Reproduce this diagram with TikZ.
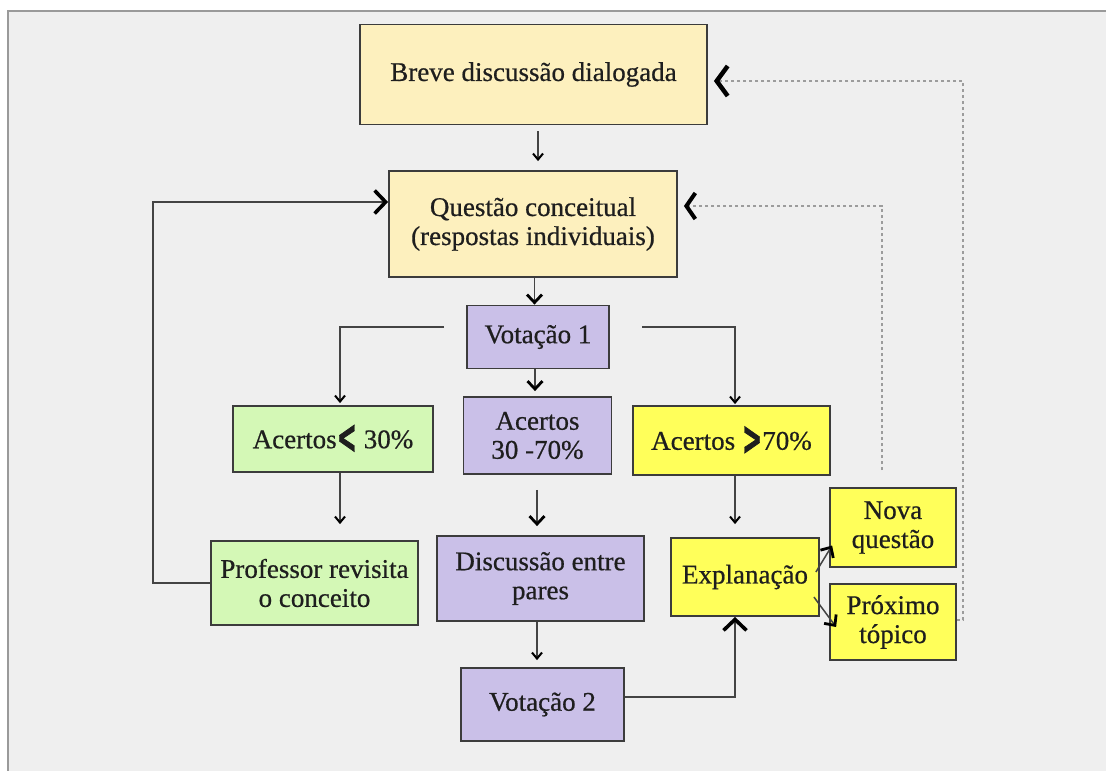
\documentclass[tikz,border=0pt]{standalone}
\usepackage{fontspec}
\usepackage{graphicx}
\setmainfont{Liberation Serif}
\newfontfamily\boxfont{Liberation Serif}[FakeBold=0.6]
\newfontfamily\chevfont{DejaVu Sans}[FakeBold=1.8]
\usetikzlibrary{arrows.meta}
\definecolor{bggray}{HTML}{EFEFEF}
\definecolor{framegray}{HTML}{9A9A9A}
\definecolor{boxline}{HTML}{3C3C3C}
\definecolor{connline}{HTML}{444444}
\definecolor{dashgray}{HTML}{9C9C9C}
\definecolor{textcol}{HTML}{1E1E1E}
\definecolor{paleyellow}{HTML}{FDF0BE}
\definecolor{palegreen}{HTML}{D4F8B6}
\definecolor{lilac}{HTML}{CAC0E8}
\definecolor{brightyellow}{HTML}{FFFF5A}
\newcommand{\ltchev}{\raisebox{-0.18em}{\chevfont\bfseries\scalebox{0.9}[1.75]{<}}}
\newcommand{\gtchev}{\raisebox{-0.18em}{\chevfont\bfseries\scalebox{0.9}[1.75]{>}}}
\begin{document}
\begin{tikzpicture}[x=1pt,y=-1pt,
  box/.style={draw=boxline, line width=1.8pt, align=center, inner sep=0pt,
    text=textcol, font=\boxfont\fontsize{27}{29}\selectfont},
  conn/.style={draw=connline, line width=1.5pt},
  small/.style={-{Straight Barb[length=6pt,width=10pt,line width=2pt,color=black]}},
  medium/.style={-{Straight Barb[length=8pt,width=15pt,line width=2.8pt,color=black]}},
  large/.style={-{Straight Barb[length=11pt,width=23pt,line width=3.6pt,color=black]}},
  dashline/.style={draw=dashgray, line width=1.5pt, dash pattern=on 3pt off 3pt},
]
\useasboundingbox (0,0) rectangle (1106,771);
\fill[white] (0,0) rectangle (1106,771);
\fill[bggray] (8,11) rectangle (1106,771);
\draw[framegray, line width=2.5pt] (8,771) -- (8,11) -- (1106,11);

% boxes
\node[box, fill=paleyellow, minimum width=347pt, minimum height=100pt] (breve) at (533.5,74.5) {Breve discussão dialogada};
\node[box, fill=paleyellow, minimum width=288pt, minimum height=106pt] (quest) at (533,224) {Questão conceitual\\(respostas individuais)};
\node[box, fill=lilac, minimum width=142pt, minimum height=63pt] (vot1) at (538,337) {Votação 1};
\node[box, fill=palegreen, minimum width=200pt, minimum height=66pt] (a30) at (333,439) {Acertos\ltchev\ 30\%};
\node[box, fill=lilac, minimum width=148pt, minimum height=77pt] (a3070) at (537.5,435.5) {Acertos\\30 -70\%};
\node[box, fill=brightyellow, minimum width=197pt, minimum height=69pt] (a70) at (731.5,440.5) {Acertos \gtchev70\%};
\node[box, fill=palegreen, minimum width=207pt, minimum height=84pt] (prof) at (314.5,583) {Professor revisita\\o conceito};
\node[box, fill=lilac, minimum width=207pt, minimum height=85pt] (disc) at (540.5,578.5) {Discussão entre\\pares};
\node[box, fill=lilac, minimum width=163pt, minimum height=73pt] (vot2) at (542.5,704.5) {Votação 2};
\node[box, fill=brightyellow, minimum width=148pt, minimum height=78pt] (expl) at (745,577) {Explanação};
\node[box, fill=brightyellow, minimum width=126pt, minimum height=79pt] (nova) at (893,527.5) {Nova\\questão};
\node[box, fill=brightyellow, minimum width=126pt, minimum height=76pt] (prox) at (893,622) {Próximo\\tópico};

% connectors
\draw[conn, small, shorten <=6pt, shorten >=9pt] (breve.south -| 538,0) -- (quest.north -| 538,0);
\draw[conn, medium] (quest.south -| 534.5,0) -- (vot1.north -| 534.5,0);
\draw[conn, medium, shorten >=5pt] (vot1.south -| 535,0) -- (a3070.north -| 535,0);
\coordinate (vl) at (444,327);
\coordinate (vr) at (642,327);
\draw[conn, small, shorten >=2pt] (vl) -| (a30.north -| 340,0);
\draw[conn, small, shorten >=1pt] (vr) -| (a70.north -| 735,0);
\draw[conn, small, shorten >=16pt] (a30.south -| 340,0) -- (prof.north -| 340,0);
\draw[conn, medium, shorten <=15pt, shorten >=9pt] (a3070.south -| 537,0) -- (disc.north -| 537,0);
\draw[conn, small, shorten >=13pt] (a70.south -| 735,0) -- (expl.north -| 735,0);
\draw[conn, small, shorten >=7pt] (disc.south -| 537,0) -- (vot2.north -| 537,0);
\draw[conn, large] (vot2.east |- 0,697) -| (expl.south -| 735,0);
\draw[conn, large] (prof.west) -- ++(-57,0) |- (quest.west |- 0,202);
\draw[conn, medium] ([xshift=-4pt,yshift=5pt]expl.east) -- ([xshift=3pt,yshift=-18pt]nova.west);
\draw[conn, medium] ([xshift=-6pt,yshift=-20pt]expl.east) -- ([xshift=7pt,yshift=-5pt]prox.west);

% dashed returns
\draw[dashline, shorten <=17pt, shorten >=6pt, -{Straight Barb[length=9pt,width=26pt,line width=4pt,color=black]}]
  (nova.north -| 882,0) |- (quest.east |- 0,206);
\draw[dashline, shorten >=6pt, -{Straight Barb[length=11pt,width=30pt,line width=4.5pt,color=black]}]
  (prox.east |- 0,620) -- (963,620) -- (963,81) -- (breve.east |- 0,81);
\end{tikzpicture}
\end{document}
